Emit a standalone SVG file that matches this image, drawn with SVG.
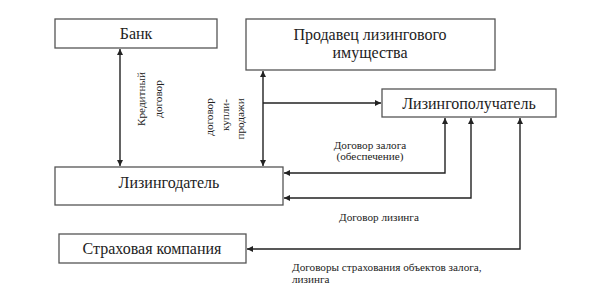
<svg xmlns="http://www.w3.org/2000/svg" width="612" height="299" viewBox="0 0 612 299">
<defs>
<marker id="ah" viewBox="0 0 10 10" refX="10" refY="5" markerWidth="6" markerHeight="6" markerUnits="userSpaceOnUse" orient="auto-start-reverse">
<path d="M0,0 L10,5 L0,10 Z" fill="#222"/>
</marker>
<style>
.box{fill:#fff;stroke:#555;stroke-width:1.3}
.lbl{font-family:"Liberation Serif","Times New Roman",serif;font-size:16px;fill:#222;text-anchor:middle}
.sm{font-family:"Liberation Serif","Times New Roman",serif;font-size:11.2px;fill:#222}
.ln{fill:none;stroke:#222;stroke-width:1.4}
</style>
</defs>
<rect width="612" height="299" fill="#fff"/>
<g id="bank"><rect class="box" x="55" y="19" width="162" height="29"/><text class="lbl" x="136" y="39">Банк</text></g>
<g id="seller"><rect class="box" x="246" y="19" width="249" height="51"/><text class="lbl" x="370" y="40">Продавец лизингового</text><text class="lbl" x="370" y="58">имущества</text></g>
<g id="lessee"><rect class="box" x="382" y="89" width="174" height="28"/><text class="lbl" x="469" y="109">Лизингополучатель</text></g>
<g id="lessor"><rect class="box" x="55" y="167" width="228" height="38"/><text class="lbl" x="169" y="188">Лизингодатель</text></g>
<g id="insurance"><rect class="box" x="59" y="234" width="187" height="29"/><text class="lbl" x="152" y="254">Страховая компания</text></g>
<g id="connectors">
<line class="ln" x1="120" y1="49" x2="120" y2="166" marker-start="url(#ah)" marker-end="url(#ah)"/>
<line class="ln" x1="263" y1="71" x2="263" y2="166" marker-start="url(#ah)" marker-end="url(#ah)"/>
<line class="ln" x1="263" y1="103" x2="381" y2="103" marker-end="url(#ah)"/>
<polyline class="ln" points="445,118 445,173 284,173" marker-start="url(#ah)" marker-end="url(#ah)"/>
<polyline class="ln" points="471,118 471,198 284,198" marker-start="url(#ah)" marker-end="url(#ah)"/>
<polyline class="ln" points="520,118 520,249 247,249" marker-start="url(#ah)" marker-end="url(#ah)"/>
</g>
<g id="labels">
<text class="sm" text-anchor="middle" transform="translate(145,99) rotate(-90)">Кредитный</text>
<text class="sm" text-anchor="middle" transform="translate(162,99) rotate(-90)">договор</text>
<text class="sm" text-anchor="middle" transform="translate(213,117) rotate(-90)">договор</text>
<text class="sm" text-anchor="middle" transform="translate(229,115) rotate(-90)">купли-</text>
<text class="sm" text-anchor="middle" transform="translate(244,119) rotate(-90)">продажи</text>
<text class="sm" text-anchor="middle" x="370" y="149">Договор залога</text>
<text class="sm" text-anchor="middle" x="370" y="160">(обеспечение)</text>
<text class="sm" text-anchor="middle" x="379" y="221">Договор лизинга</text>
<text class="sm" x="292" y="271">Договоры страхования объектов залога,</text>
<text class="sm" x="292" y="283">лизинга</text>
</g>
</svg>
